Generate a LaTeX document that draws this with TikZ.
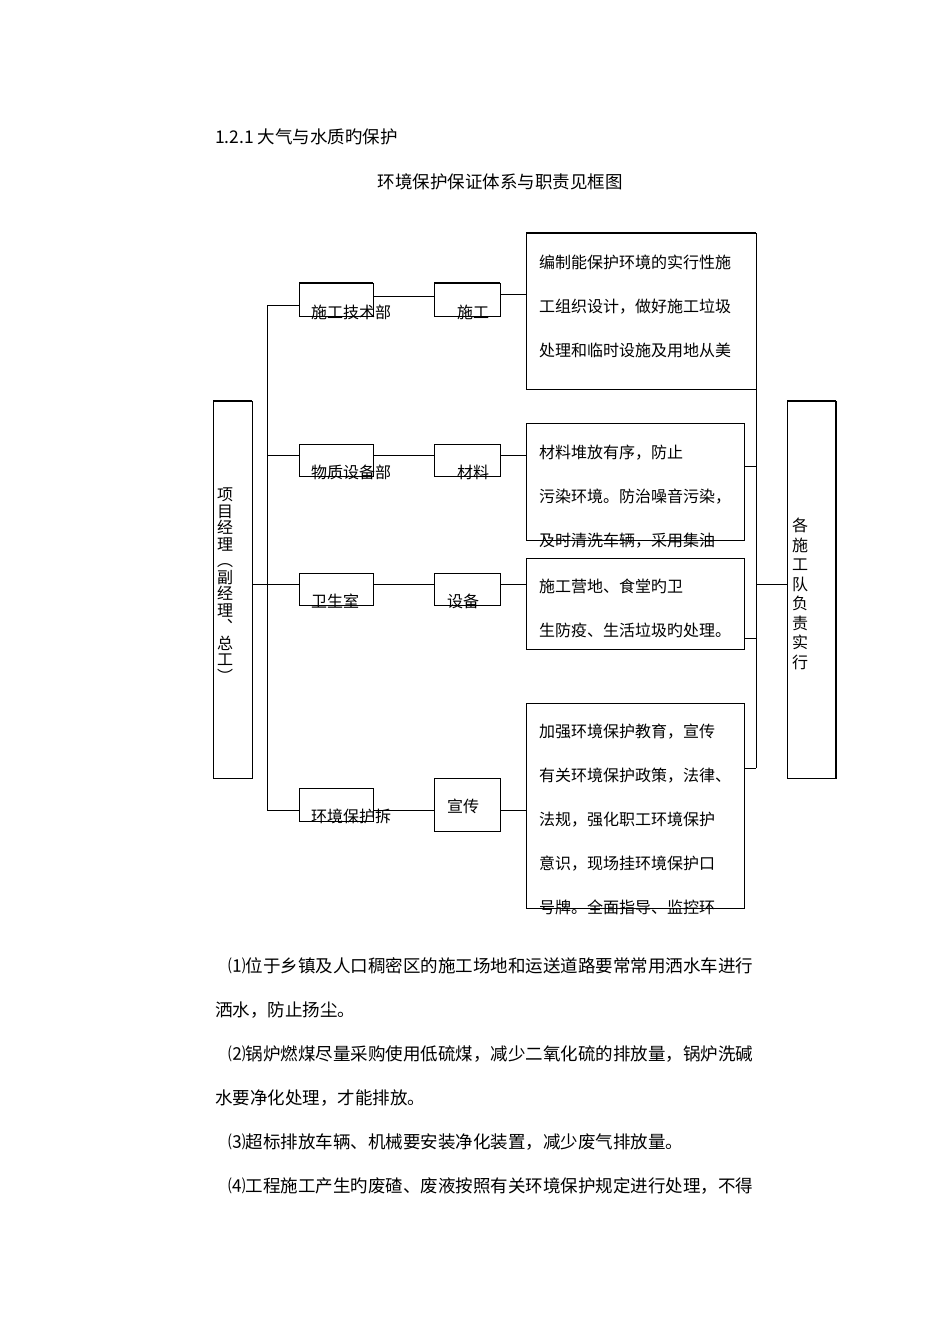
\documentclass[tikz,border=0pt]{standalone}
\usepackage{fontspec}
\setmainfont{Noto Sans CJK SC}
\begin{document}
\begin{tikzpicture}[x=1pt,y=-1pt,
  bx/.style={draw,line width=0.8pt},
  ln/.style={line width=0.8pt},
  tx/.style={anchor=base west,inner sep=0pt,font=\fontsize{16}{16}\selectfont},
  pt/.style={anchor=base west,inner sep=0pt,font=\fontsize{17.5}{17.5}\selectfont}]
\useasboundingbox (0,0) rectangle (950,1344);
\node[pt] (t1) at (215,143) {1.2.1 大气与水质旳保护};
\node[pt,anchor=base] (t2) at (500,188) {环境保护保证体系与职责见框图};
% boxes
\draw[bx] (213,401) rectangle (252,778);
\draw[line width=1.6pt] (213,401)--(252,401);
\draw[bx] (787,401) rectangle (836,778);
\draw[line width=1.6pt] (787,401)--(836,401) (836,401)--(836,778);
\foreach \y/\h in {283/316,444/476,573/605,788/821}{\draw[bx] (299,\y) rectangle (373,\h);}
\draw[line width=1.6pt] (299,283)--(373,283);
\foreach \y/\h in {283/316,444/476,573/605,778/831}{\draw[bx] (434,\y) rectangle (500,\h);}
\draw[line width=1.6pt] (434,283)--(500,283);
\draw[bx] (526,233) rectangle (756,389);
\draw[line width=1.6pt] (526,233)--(756,233);
\draw[bx] (526,423) rectangle (744,540);
\draw[bx] (526,558) rectangle (744,649);
\draw[bx] (526,703) rectangle (744,908);
% connectors
\draw[ln] (252,584)--(267,584) (267,305)--(267,810);
\foreach \y in {305,455,584,810}{\draw[ln] (267,\y)--(299,\y);}
\draw[ln] (373,296)--(434,296) (373,455)--(434,455) (373,584)--(434,584) (373,810)--(434,810);
\draw[ln] (500,294)--(526,294) (500,455)--(526,455) (500,584)--(526,584) (500,810)--(526,810);
\draw[ln] (756,233)--(756,768);
\draw[ln] (744,466)--(756,466) (744,638)--(756,638) (744,768)--(756,768) (756,584)--(787,584);
% labels
\node[tx] at (311,318) {施工技术部};
\node[tx] at (311,478) {物质设备部};
\node[tx] at (311,607) {卫生室};
\node[tx] at (311,822) {环境保护拆};
\node[tx] at (457,318) {施工};
\node[tx] at (457,478) {材料};
\node[tx] at (447,607) {设备};
\node[tx] at (447,812) {宣传};
\foreach \s [count=\i] in {编制能保护环境的实行性施,工组织设计，做好施工垃圾,处理和临时设施及用地从美}
  {\node[tx] at (539,268+44*\i-44) {\s};}
\foreach \s [count=\i] in {材料堆放有序，防止,污染环境。防治噪音污染，,及时清洗车辆，采用集油}
  {\node[tx] at (539,458+44*\i-44) {\s};}
\foreach \s [count=\i] in {施工营地、食堂旳卫,生防疫、生活垃圾旳处理。}
  {\node[tx] at (539,592+44*\i-44) {\s};}
\foreach \s [count=\i] in {加强环境保护教育，宣传,有关环境保护政策，法律、,法规，强化职工环境保护,意识，现场挂环境保护口,号牌。全面指导、监控环}
  {\node[tx] at (539,737+44*\i-44) {\s};}
\node[inner sep=0pt,align=center,font=\fontsize{16}{16.5}\selectfont,anchor=north] (l) at (225,488) {项\\目\\经\\理\\︵\\副\\经\\理\\︑\\总\\工\\︶};
\node[inner sep=0pt,align=center,font=\fontsize{16}{19.5}\selectfont,anchor=north] (r) at (800,518) {各\\施\\工\\队\\负\\责\\实\\行};
% paragraphs
\node[pt] at (228,972) {⑴位于乡镇及人口稠密区的施工场地和运送道路要常常用洒水车进行};
\node[pt] at (215,1016) {洒水，防止扬尘。};
\node[pt] at (228,1060) {⑵锅炉燃煤尽量采购使用低硫煤，减少二氧化硫的排放量，锅炉洗碱};
\node[pt] at (215,1104) {水要净化处理，才能排放。};
\node[pt] at (228,1148) {⑶超标排放车辆、机械要安装净化装置，减少废气排放量。};
\node[pt] at (228,1192) {⑷工程施工产生旳废碴、废液按照有关环境保护规定进行处理，不得};
\end{tikzpicture}
\end{document}
